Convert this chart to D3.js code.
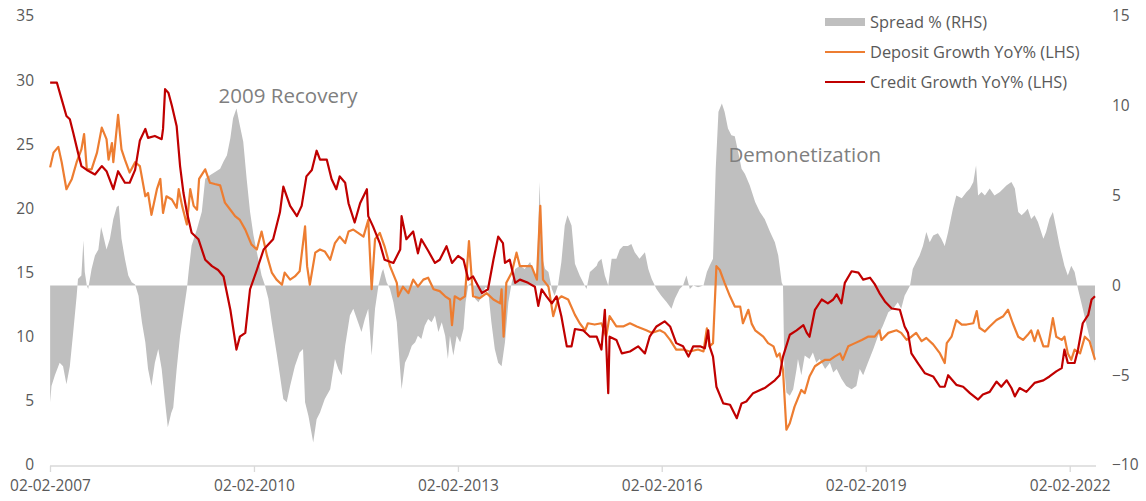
<!DOCTYPE html>
<html><head><meta charset="utf-8">
<script src="https://cdn.jsdelivr.net/npm/d3@7"></script>
<style>
html,body{margin:0;padding:0;background:#fff;}
svg{display:block;font-family:"Open Sans",sans-serif;}
</style></head>
<body><svg id="chart" width="1146" height="501"></svg>
<script>
// x values are decimal years
const creditSeries = [[2007.09,29.8],[2007.19,29.8],[2007.26,28.5],[2007.33,27.2],[2007.38,26.95],[2007.43,25.9],[2007.50,24.35],[2007.55,23.3],[2007.63,23.0],[2007.75,22.65],[2007.85,23.3],[2007.92,22.9],[2008.02,21.5],[2008.09,22.9],[2008.19,22.0],[2008.26,22.0],[2008.34,23.0],[2008.41,25.3],[2008.49,26.2],[2008.53,25.5],[2008.63,25.65],[2008.73,25.4],[2008.75,26.2],[2008.78,29.3],[2008.83,29.0],[2008.88,28.0],[2008.95,26.4],[2009.00,23.3],[2009.05,21.2],[2009.10,19.7],[2009.17,18.1],[2009.27,17.6],[2009.37,16.0],[2009.47,15.5],[2009.56,15.2],[2009.64,14.7],[2009.74,12.1],[2009.83,9.0],[2009.88,10.0],[2009.96,10.3],[2010.03,13.7],[2010.13,15.2],[2010.23,16.8],[2010.37,17.6],[2010.47,19.7],[2010.52,21.7],[2010.62,20.2],[2010.72,19.4],[2010.79,20.2],[2010.86,22.5],[2010.94,23.0],[2011.01,24.5],[2011.06,23.8],[2011.16,23.8],[2011.23,22.3],[2011.30,21.5],[2011.35,22.5],[2011.43,22.0],[2011.48,20.4],[2011.57,18.9],[2011.65,20.4],[2011.75,21.5],[2011.77,19.4],[2011.84,18.6],[2011.94,17.3],[2012.01,16.0],[2012.14,15.75],[2012.24,16.8],[2012.26,19.4],[2012.33,17.6],[2012.43,18.2],[2012.50,16.5],[2012.55,17.6],[2012.65,16.7],[2012.75,15.75],[2012.82,16.0],[2012.92,17.05],[2013.00,15.75],[2013.09,16.3],[2013.17,16.0],[2013.24,14.45],[2013.31,14.7],[2013.44,13.4],[2013.53,13.7],[2013.61,16.0],[2013.68,17.8],[2013.75,17.3],[2013.78,15.75],[2013.85,16.0],[2013.93,14.2],[2014.00,14.45],[2014.12,14.2],[2014.22,13.9],[2014.27,12.4],[2014.32,13.7],[2014.39,13.15],[2014.47,12.6],[2014.54,13.15],[2014.61,11.6],[2014.69,9.25],[2014.76,9.25],[2014.81,10.6],[2014.93,10.5],[2015.03,10.0],[2015.13,10.0],[2015.20,9.0],[2015.25,12.1],[2015.30,5.6],[2015.32,10.0],[2015.42,9.75],[2015.50,8.7],[2015.62,8.85],[2015.74,9.25],[2015.84,8.7],[2015.91,10.0],[2016.01,10.8],[2016.13,11.2],[2016.21,10.8],[2016.30,9.5],[2016.40,9.25],[2016.48,8.45],[2016.55,9.25],[2016.65,9.25],[2016.72,9.1],[2016.77,10.5],[2016.79,9.25],[2016.84,8.45],[2016.89,6.1],[2016.99,4.8],[2017.09,4.7],[2017.19,3.65],[2017.26,4.8],[2017.33,4.95],[2017.43,5.6],[2017.60,6.0],[2017.75,6.6],[2017.82,7.0],[2017.87,8.45],[2017.97,10.15],[2018.07,10.5],[2018.17,10.9],[2018.22,10.3],[2018.26,10.0],[2018.34,12.1],[2018.44,12.9],[2018.53,12.6],[2018.61,12.9],[2018.66,13.3],[2018.73,12.6],[2018.78,14.2],[2018.88,15.1],[2018.98,15.0],[2019.05,14.45],[2019.15,14.6],[2019.22,14.1],[2019.29,13.4],[2019.37,12.75],[2019.47,12.2],[2019.59,12.1],[2019.66,10.8],[2019.71,10.3],[2019.76,8.7],[2019.86,7.9],[2019.96,7.15],[2020.08,6.9],[2020.18,6.1],[2020.25,6.1],[2020.30,7.0],[2020.42,6.25],[2020.52,6.1],[2020.62,5.6],[2020.74,5.1],[2020.81,5.5],[2020.91,5.7],[2021.01,6.5],[2021.08,6.1],[2021.16,6.6],[2021.23,6.0],[2021.28,5.35],[2021.35,6.0],[2021.45,5.7],[2021.57,6.4],[2021.70,6.6],[2021.79,6.9],[2021.89,7.3],[2021.97,7.55],[2022.01,9.0],[2022.06,7.95],[2022.16,7.95],[2022.21,9.0],[2022.28,11.05],[2022.36,11.7],[2022.41,12.9],[2022.46,13.15]];

const depositSeries = [[2007.09,23.2],[2007.14,24.35],[2007.21,24.8],[2007.26,23.6],[2007.33,21.5],[2007.41,22.3],[2007.48,23.6],[2007.55,24.6],[2007.59,25.8],[2007.63,23.05],[2007.70,23.05],[2007.78,24.35],[2007.85,26.3],[2007.92,25.4],[2007.95,23.8],[2008.00,25.1],[2008.02,23.6],[2008.09,27.3],[2008.14,24.6],[2008.19,23.8],[2008.26,22.8],[2008.34,23.6],[2008.41,23.3],[2008.49,20.95],[2008.53,21.2],[2008.58,19.5],[2008.66,21.5],[2008.71,22.3],[2008.75,19.65],[2008.80,20.95],[2008.88,20.7],[2008.95,20.05],[2008.98,21.5],[2009.03,20.2],[2009.10,18.75],[2009.15,21.5],[2009.20,20.2],[2009.25,19.9],[2009.28,22.3],[2009.37,23.05],[2009.44,22.0],[2009.51,21.9],[2009.59,21.8],[2009.66,20.45],[2009.74,19.9],[2009.81,19.4],[2009.88,19.1],[2009.96,18.35],[2010.05,17.2],[2010.13,16.8],[2010.20,18.2],[2010.28,16.3],[2010.35,15.0],[2010.42,14.45],[2010.50,14.05],[2010.54,15.0],[2010.62,14.45],[2010.69,14.7],[2010.76,15.1],[2010.84,18.6],[2010.87,15.5],[2010.91,14.05],[2010.99,16.55],[2011.06,16.8],[2011.13,16.65],[2011.21,16.0],[2011.28,17.3],[2011.35,17.8],[2011.43,17.3],[2011.48,18.2],[2011.55,18.35],[2011.62,18.1],[2011.70,17.8],[2011.77,19.1],[2011.82,13.7],[2011.87,17.6],[2011.94,18.1],[2012.01,17.05],[2012.09,15.5],[2012.19,14.2],[2012.21,13.15],[2012.28,13.9],[2012.36,13.4],[2012.43,14.45],[2012.50,13.9],[2012.58,14.45],[2012.65,14.6],[2012.73,13.7],[2012.82,13.55],[2012.90,13.15],[2012.97,12.9],[2013.00,10.9],[2013.04,13.15],[2013.12,12.9],[2013.19,13.15],[2013.25,17.45],[2013.31,13.15],[2013.41,13.0],[2013.51,13.4],[2013.61,12.9],[2013.71,12.6],[2013.73,13.7],[2013.76,10.0],[2013.80,14.2],[2013.88,15.0],[2013.95,16.55],[2014.00,15.5],[2014.07,15.5],[2014.17,15.5],[2014.25,14.45],[2014.30,20.2],[2014.34,14.45],[2014.42,13.9],[2014.49,11.6],[2014.56,12.9],[2014.61,13.15],[2014.71,12.9],[2014.81,11.7],[2014.88,11.05],[2014.96,10.5],[2015.00,11.05],[2015.10,10.95],[2015.20,11.05],[2015.27,10.0],[2015.32,11.6],[2015.42,10.8],[2015.52,10.8],[2015.62,11.05],[2015.72,10.8],[2015.86,10.5],[2015.94,10.3],[2016.06,10.5],[2016.13,10.3],[2016.21,9.75],[2016.30,9.0],[2016.40,9.0],[2016.50,8.85],[2016.62,9.0],[2016.70,8.85],[2016.75,10.65],[2016.79,9.25],[2016.84,9.5],[2016.89,15.5],[2016.94,15.2],[2017.01,14.2],[2017.09,13.15],[2017.16,12.35],[2017.24,12.35],[2017.28,11.05],[2017.36,12.1],[2017.41,11.0],[2017.46,10.5],[2017.58,10.0],[2017.65,9.5],[2017.73,9.25],[2017.78,8.45],[2017.82,8.7],[2017.87,7.4],[2017.92,2.75],[2017.97,3.25],[2018.04,4.55],[2018.14,5.85],[2018.19,5.6],[2018.26,6.9],[2018.34,7.7],[2018.41,7.95],[2018.49,8.2],[2018.56,8.2],[2018.63,8.45],[2018.71,8.7],[2018.75,8.2],[2018.83,9.25],[2018.93,9.5],[2019.03,9.75],[2019.12,10.0],[2019.22,10.0],[2019.29,10.5],[2019.32,9.75],[2019.42,10.3],[2019.54,10.5],[2019.61,10.3],[2019.69,9.75],[2019.76,10.0],[2019.83,10.3],[2019.91,9.65],[2019.98,9.9],[2020.08,9.4],[2020.18,8.7],[2020.25,7.95],[2020.28,9.5],[2020.35,10.0],[2020.42,11.3],[2020.50,10.95],[2020.57,10.95],[2020.67,11.05],[2020.72,12.0],[2020.76,10.7],[2020.84,10.4],[2020.91,10.8],[2021.01,11.3],[2021.11,11.6],[2021.18,12.1],[2021.25,11.05],[2021.33,10.0],[2021.40,9.75],[2021.47,10.15],[2021.52,10.5],[2021.57,9.65],[2021.62,10.5],[2021.70,9.25],[2021.77,9.25],[2021.84,11.45],[2021.89,10.0],[2021.97,9.75],[2022.01,10.0],[2022.06,8.7],[2022.11,8.2],[2022.16,9.0],[2022.24,8.7],[2022.31,10.0],[2022.38,9.65],[2022.46,8.2]];

const spreadSeries = [[2007.09,-6.5],[2007.11,-5.6],[2007.16,-5.0],[2007.23,-4.3],[2007.28,-4.5],[2007.33,-5.5],[2007.38,-4.5],[2007.43,-2.6],[2007.48,-0.6],[2007.50,0.36],[2007.55,0.55],[2007.58,2.5],[2007.60,0.74],[2007.63,0],[2007.65,-0.2],[2007.70,0.92],[2007.75,1.66],[2007.80,2.0],[2007.84,3.25],[2007.87,2.8],[2007.92,2.0],[2007.97,2.6],[2008.02,3.7],[2008.07,4.36],[2008.10,4.45],[2008.14,2.6],[2008.19,1.48],[2008.24,0.55],[2008.29,0.18],[2008.34,0.05],[2008.39,-0.57],[2008.44,-2.05],[2008.49,-3.17],[2008.53,-4.66],[2008.58,-5.6],[2008.63,-4.3],[2008.68,-3.54],[2008.73,-4.66],[2008.78,-6.5],[2008.82,-7.9],[2008.87,-7.1],[2008.90,-6.8],[2008.95,-4.66],[2009.00,-2.8],[2009.05,-1.5],[2009.10,-0.2],[2009.13,0.92],[2009.17,2.22],[2009.25,3.15],[2009.32,4.1],[2009.37,5.94],[2009.44,6.13],[2009.51,6.3],[2009.59,6.5],[2009.64,6.9],[2009.69,7.24],[2009.74,8.2],[2009.78,9.3],[2009.83,9.85],[2009.88,8.9],[2009.93,8.0],[2009.98,5.94],[2010.03,4.1],[2010.08,2.8],[2010.15,1.48],[2010.20,0.55],[2010.25,0],[2010.30,-0.75],[2010.35,-2.05],[2010.42,-3.73],[2010.47,-5.0],[2010.52,-6.33],[2010.57,-6.5],[2010.62,-5.6],[2010.69,-4.5],[2010.76,-3.73],[2010.81,-3.54],[2010.84,-6.5],[2010.89,-7.27],[2010.96,-8.75],[2011.01,-7.45],[2011.06,-7.07],[2011.13,-6.33],[2011.21,-5.78],[2011.28,-4.1],[2011.33,-4.66],[2011.38,-5.0],[2011.43,-3.36],[2011.50,-1.68],[2011.55,-1.3],[2011.62,-2.05],[2011.67,-2.6],[2011.72,-1.87],[2011.77,-1.3],[2011.82,-3.9],[2011.87,-1.3],[2011.92,0],[2011.97,0.74],[2011.99,0.92],[2012.04,0.18],[2012.09,-0.2],[2012.14,-0.94],[2012.19,-2.05],[2012.21,-3.17],[2012.26,-5.78],[2012.31,-4.3],[2012.36,-3.9],[2012.41,-3.36],[2012.46,-3.17],[2012.50,-2.8],[2012.55,-2.98],[2012.60,-2.24],[2012.65,-1.87],[2012.70,-2.05],[2012.75,-1.68],[2012.80,-2.6],[2012.85,-2.05],[2012.90,-2.8],[2012.94,-4.1],[2012.97,-2.8],[2013.02,-3.9],[2013.07,-2.8],[2013.12,-3.17],[2013.17,-2.42],[2013.20,-0.94],[2013.24,0],[2013.29,0.18],[2013.34,-0.75],[2013.39,-0.94],[2013.44,-0.57],[2013.49,-0.1],[2013.53,-0.2],[2013.58,-2.05],[2013.63,-3.54],[2013.68,-4.3],[2013.73,-4.5],[2013.78,-3.17],[2013.83,-0.94],[2013.88,0.18],[2013.93,0.92],[2014.00,1.1],[2014.07,0.92],[2014.15,1.3],[2014.20,0.74],[2014.25,0.55],[2014.29,5.76],[2014.32,1.66],[2014.37,0.92],[2014.42,0.74],[2014.47,-0.2],[2014.51,-0.57],[2014.56,0],[2014.61,1.3],[2014.66,3.34],[2014.70,3.9],[2014.76,3.34],[2014.78,2.5],[2014.81,1.2],[2014.88,0.55],[2014.93,0.18],[2014.98,-0.2],[2015.03,0.74],[2015.08,0.92],[2015.13,1.1],[2015.15,1.3],[2015.20,1.48],[2015.25,0.55],[2015.30,0],[2015.35,1.48],[2015.42,1.48],[2015.47,2.0],[2015.52,2.2],[2015.59,2.2],[2015.64,2.3],[2015.69,1.85],[2015.76,1.48],[2015.84,1.85],[2015.89,0.92],[2015.94,0.36],[2016.01,-0.2],[2016.08,-0.57],[2016.16,-0.94],[2016.23,-1.3],[2016.28,-0.75],[2016.35,-0.2],[2016.40,0],[2016.45,0.55],[2016.50,-0.2],[2016.55,0],[2016.62,-0.1],[2016.70,0],[2016.75,0.74],[2016.79,1.1],[2016.84,1.48],[2016.88,6.5],[2016.92,9.67],[2016.97,10.13],[2017.01,9.67],[2017.06,8.73],[2017.11,8.36],[2017.16,8.3],[2017.21,7.43],[2017.26,6.5],[2017.31,6.2],[2017.38,5.57],[2017.46,4.64],[2017.53,4.08],[2017.60,3.7],[2017.68,2.97],[2017.75,2.4],[2017.80,1.66],[2017.85,0.18],[2017.87,0],[2017.89,-4.66],[2017.92,-5.96],[2017.97,-6.15],[2018.02,-5.78],[2018.07,-4.66],[2018.09,-4.1],[2018.14,-5.0],[2018.19,-3.9],[2018.26,-4.1],[2018.31,-3.73],[2018.36,-4.3],[2018.41,-4.1],[2018.49,-4.66],[2018.56,-4.3],[2018.61,-4.85],[2018.66,-4.66],[2018.73,-5.2],[2018.80,-5.6],[2018.88,-5.78],[2018.95,-5.6],[2019.00,-4.66],[2019.05,-5.0],[2019.12,-4.3],[2019.20,-3.54],[2019.27,-2.8],[2019.34,-2.24],[2019.42,-1.5],[2019.49,-1.3],[2019.56,-0.94],[2019.61,-1.3],[2019.66,-0.57],[2019.74,0],[2019.78,0.92],[2019.83,1.3],[2019.88,1.66],[2019.93,2.2],[2019.98,2.97],[2020.03,2.4],[2020.08,2.78],[2020.15,2.9],[2020.20,2.6],[2020.25,2.2],[2020.30,2.97],[2020.37,4.27],[2020.42,5.0],[2020.50,4.85],[2020.57,5.2],[2020.62,5.4],[2020.67,5.76],[2020.71,6.68],[2020.74,5.0],[2020.79,5.2],[2020.84,5.0],[2020.91,5.4],[2020.98,5.0],[2021.06,5.2],[2021.16,5.57],[2021.23,5.76],[2021.28,5.4],[2021.33,4.08],[2021.38,3.9],[2021.43,4.08],[2021.47,4.27],[2021.52,3.7],[2021.57,3.9],[2021.62,3.53],[2021.70,2.6],[2021.74,2.97],[2021.79,3.7],[2021.84,4.08],[2021.89,3.15],[2021.94,2.2],[2022.01,1.1],[2022.06,0.55],[2022.11,1.1],[2022.16,0.74],[2022.21,-0.2],[2022.28,-1.3],[2022.36,-2.6],[2022.41,-3.36],[2022.46,-4.3]];

const tickDates = ["02-02-2007","02-02-2010","02-02-2013","02-02-2016","02-02-2019","02-02-2022"];
const leftTicks = [0,5,10,15,20,25,30,35];
const rightTicks = [-10,-5,0,5,10,15];
const seriesNames = ["Spread % (RHS)","Deposit Growth YoY% (LHS)","Credit Growth YoY% (LHS)"];
const annotations = [{text:"2009 Recovery", t:2010.59, v:28.2},{text:"Demonetization", t:2018.19, v:23.6}];

const toDate = t => { const y = Math.floor(t); const a = new Date(y,0,1), b = new Date(y+1,0,1); return new Date(+a + (t-y)*(b-a)); };
const parse = d3.timeParse("%d-%m-%Y");
const fmt = d3.timeFormat("%d-%m-%Y");

const svg = d3.select("#chart");
const x = d3.scaleTime().domain([toDate(2007.088), toDate(2022.46)]).range([50, 1095]);
const yL = d3.scaleLinear().domain([0,35]).range([465,16]);
const yR = d3.scaleLinear().domain([-10,15]).range([465,16]);
const textCol = "#595959";

// spread area
svg.append("path").datum(spreadSeries)
  .attr("fill","#bfbfbf")
  .attr("d", d3.area().x(d=>x(toDate(d[0]))).y0(yR(0)).y1(d=>yR(d[1])));

// x axis
const xAxis = svg.append("g").attr("transform","translate(0,466)")
  .call(d3.axisBottom(x).tickValues(tickDates.map(parse)).tickFormat(fmt).tickSize(6).tickSizeOuter(0));
xAxis.select(".domain").attr("stroke","#d9d9d9").attr("stroke-width",1.3).attr("d","M50,0H1096");
xAxis.selectAll(".tick line").attr("stroke","#d9d9d9").attr("stroke-width",1.3);
xAxis.selectAll(".tick text").attr("fill",textCol).attr("font-size","15.5px").attr("font-family","'Open Sans',sans-serif").attr("dy","1.05em");

// left axis labels
const la = svg.append("g").attr("transform","translate(34,0)").call(d3.axisLeft(yL).tickValues(leftTicks).tickSize(0).tickPadding(0));
la.select(".domain").remove();
la.selectAll("text").attr("fill",textCol).attr("font-size","15.5px").attr("font-family","'Open Sans',sans-serif");

// right axis labels
const ra = svg.append("g").attr("transform","translate(1112,0)").call(d3.axisRight(yR).tickValues(rightTicks).tickSize(0).tickPadding(0));
ra.select(".domain").remove();
ra.selectAll("text").attr("fill",textCol).attr("font-size","15.5px").attr("font-family","'Open Sans',sans-serif");

const line = d3.line().x(d=>x(toDate(d[0]))).y(d=>yL(d[1]));
svg.append("path").datum(depositSeries).attr("fill","none").attr("stroke","#ed7d31").attr("stroke-width",2.2).attr("stroke-linejoin","round").attr("d",line);
svg.append("path").datum(creditSeries).attr("fill","none").attr("stroke","#c00000").attr("stroke-width",2.2).attr("stroke-linejoin","round").attr("d",line);

// annotations
svg.selectAll("text.ann").data(annotations).join("text").attr("class","ann")
  .attr("x",d=>x(toDate(d.t))).attr("y",d=>yL(d.v)).attr("text-anchor","middle")
  .attr("fill","#7f7f7f").attr("font-size","20.5px").text(d=>d.text);

// legend
const leg = svg.append("g").attr("transform","translate(825,0)");
const legY = [22,52,82];
leg.append("rect").attr("x",0).attr("y",legY[0]-4).attr("width",40).attr("height",8).attr("fill","#bfbfbf");
leg.append("line").attr("x1",0).attr("x2",40).attr("y1",legY[1]).attr("y2",legY[1]).attr("stroke","#ed7d31").attr("stroke-width",2.2);
leg.append("line").attr("x1",0).attr("x2",40).attr("y1",legY[2]).attr("y2",legY[2]).attr("stroke","#c00000").attr("stroke-width",2.2);
leg.selectAll("text").data(seriesNames).join("text").attr("x",45).attr("y",(d,i)=>legY[i]).attr("dy","0.35em")
  .attr("fill",textCol).attr("font-size","16.4px").text(d=>d);
</script></body></html>
